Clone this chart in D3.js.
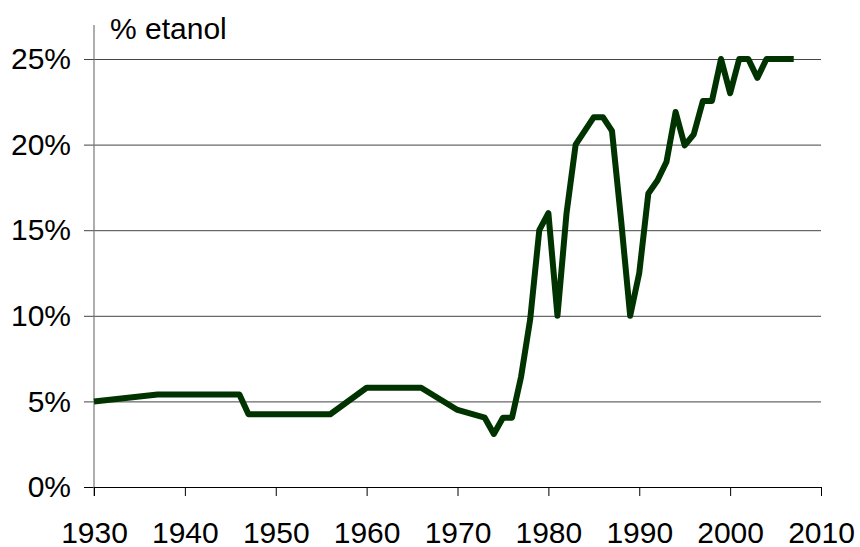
<!DOCTYPE html>
<html>
<head>
<meta charset="utf-8">
<script src="https://cdn.jsdelivr.net/npm/d3@7"></script>
<style>
  body { margin: 0; background: #fff; }
  text { font-family: "Liberation Sans", Arial, sans-serif; fill: #000; }
</style>
</head>
<body>
<div id="chart"></div>
<script>
// data
const years = [1930, 1937, 1946, 1947, 1956, 1960, 1966, 1970, 1973, 1974, 1975, 1976, 1977, 1978,
  1979, 1980, 1981, 1982, 1983, 1984, 1985, 1986, 1987, 1988, 1989, 1990, 1991, 1992, 1993,
  1994, 1995, 1996, 1997, 1998, 1999, 2000, 2001, 2002, 2003, 2004, 2005, 2006, 2007];
const ethanol = [5.0, 5.4, 5.4, 4.25, 4.25, 5.8, 5.8, 4.5, 4.05, 3.1, 4.05, 4.05, 6.45, 9.8,
  15.0, 16.0, 10.0, 16.0, 20.0, 20.8, 21.6, 21.6, 20.8, 15.6, 10.0, 12.5, 17.15, 17.9, 19.0,
  21.9, 19.95, 20.6, 22.55, 22.55, 25.0, 23.0, 25.0, 25.0, 23.9, 25.0, 25.0, 25.0, 25.0];
const yTicks = [0, 5, 10, 15, 20, 25];
const xTicks = [1930, 1940, 1950, 1960, 1970, 1980, 1990, 2000, 2010];

var width = 860, height = 547;
var margin = {top: 59, right: 39, bottom: 60, left: 94};

var svg = d3.select("#chart")
    .append("svg")
    .attr("width", width)
    .attr("height", height);

var x = d3.scaleLinear()
    .domain([1930, 2010])
    .range([margin.left, width - margin.right]);

var y = d3.scaleLinear()
    .domain([0, 25])
    .range([height - margin.bottom, margin.top]);

// gridlines + y labels
var yAxis = svg.append("g")
    .attr("transform", "translate(" + (width - margin.right) + ",0)")
    .call(d3.axisLeft(y)
        .tickValues(yTicks)
        .tickSize(width - margin.right - margin.left + 10)
        .tickPadding(13)
        .tickFormat(function(d) { return d + "%"; }));
yAxis.select(".domain").remove();
yAxis.selectAll(".tick line")
    .attr("stroke", function(d) { return d === 0 ? "#000" : "#444"; })
    .attr("stroke-width", 1);
yAxis.selectAll(".tick text")
    .style("font-size", "30px");

// vertical axis line
svg.append("line")
    .attr("x1", x(1930)).attr("x2", x(1930))
    .attr("y1", 25).attr("y2", y(0) + 9)
    .attr("stroke", "#777")
    .attr("stroke-width", 1.2);

// x axis
var xAxis = svg.append("g")
    .attr("transform", "translate(0," + y(0) + ")")
    .call(d3.axisBottom(x)
        .tickValues(xTicks)
        .tickSize(9)
        .tickPadding(26)
        .tickFormat(d3.format("d")));
xAxis.select(".domain").remove();
xAxis.selectAll(".tick line").attr("stroke", "#000");
xAxis.selectAll(".tick text")
    .style("font-size", "30px");

// the line
var line = d3.line()
    .x(function(d, i) { return x(years[i]); })
    .y(function(d) { return y(d); });

svg.append("path")
    .datum(ethanol)
    .attr("d", line)
    .attr("fill", "none")
    .attr("stroke", "#003300")
    .attr("stroke-width", 6)
    .attr("stroke-linejoin", "round");

svg.append("text")
    .attr("x", 110)
    .attr("y", 39)
    .style("font-size", "30px")
    .text("% etanol");
</script>
</body>
</html>
